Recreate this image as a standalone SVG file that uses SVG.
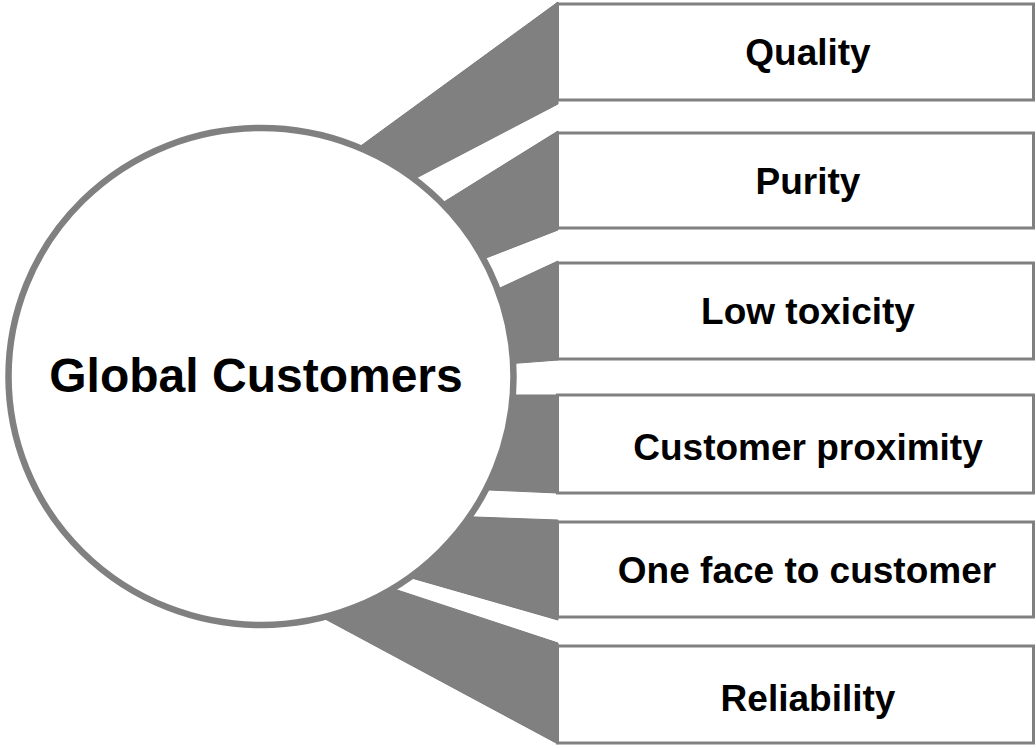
<svg xmlns="http://www.w3.org/2000/svg" width="1036" height="748" viewBox="0 0 1036 748">
<style>
.w{fill:#808080;stroke:#7a7a7a;stroke-width:1}
.box{fill:#ffffff;stroke:#808080;stroke-width:3}
.lbl{font-family:"Liberation Sans",Arial,sans-serif;font-weight:bold;font-size:37px;fill:#000;text-anchor:middle}
</style>
<rect width="1036" height="748" fill="#ffffff"/>
<g id="connectors">
<polygon class="w" points="355.6,149.7 558,2 558,104 410.9,180.8"/>
<polygon class="w" points="436.8,206.4 558,131 558,230 476.9,261.5"/>
<polygon class="w" points="491.2,292.1 558,261 558,360 506,364"/>
<polygon class="w" points="506,395 558,395 558,493 478,489.5"/>
<polygon class="w" points="463,516.6 558,520 558,620 403.5,575.7"/>
<polygon class="w" points="385.6,586.2 558,643 558,744 316.4,614.3"/>
</g>
<g id="center">
<ellipse cx="261" cy="376.5" rx="252.5" ry="248.5" fill="#ffffff" stroke="#808080" stroke-width="6.5"/>
<text x="256" y="392" font-family="Liberation Sans, Arial, sans-serif" font-weight="bold" font-size="48" fill="#000" text-anchor="middle">Global Customers</text>
</g>
<g id="quality"><rect class="box" x="557.5" y="4" width="476" height="96"/><text class="lbl" x="808" y="65">Quality</text></g>
<g id="purity"><rect class="box" x="557.5" y="133" width="476" height="95"/><text class="lbl" x="808" y="194">Purity</text></g>
<g id="lowtoxicity"><rect class="box" x="557.5" y="263" width="476" height="96"/><text class="lbl" x="808" y="324">Low toxicity</text></g>
<g id="proximity"><rect class="box" x="557.5" y="395" width="476" height="98"/><text class="lbl" x="808" y="460">Customer proximity</text></g>
<g id="oneface"><rect class="box" x="557.5" y="522" width="476" height="95"/><text class="lbl" x="807" y="583">One face to customer</text></g>
<g id="reliability"><rect class="box" x="557.5" y="646" width="476" height="97"/><text class="lbl" x="808" y="711">Reliability</text></g>
</svg>
